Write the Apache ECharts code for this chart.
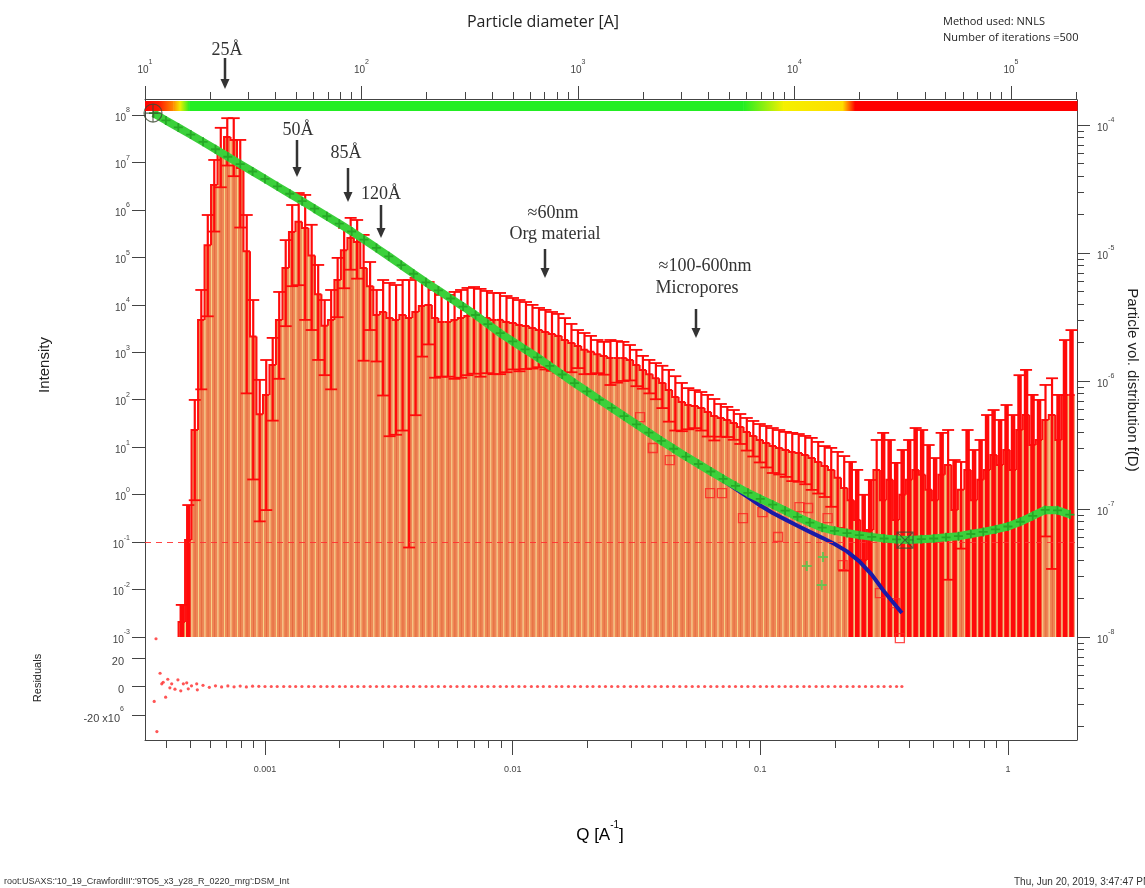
<!DOCTYPE html>
<html><head><meta charset="utf-8">
<script src="https://cdn.jsdelivr.net/npm/echarts@6/dist/echarts.min.js"></script>
<style>html,body{margin:0;padding:0;background:#fff;overflow:hidden;}#c{width:1145px;height:888px;}</style>
</head><body><div id="c"></div>
<script>
// ---------------- data ----------------
// Size distribution (top axis: diameter [Å], right axis: f(D))
const binDiameters = [14.79,15.85,16.98,18.20,19.50,20.89,22.39,23.99,25.70,27.54,29.51,31.62,33.88,36.31,38.90,41.69,44.67,47.86,51.29,54.95,58.88,63.10,67.61,72.44,77.62,83.18,89.13,95.50,102.3,109.6,117.5,125.9,134.9,144.5,154.9,166.0,177.8,190.5,204.2,218.8,234.4,251.2,269.2,288.4,309.0,331.1,354.8,380.2,407.4,436.5,467.7,501.2,537.0,575.4,616.6,660.7,707.9,758.6,812.8,871.0,933.3,1000,1072,1148,1230,1318,1413,1514,1622,1738,1862,1995,2138,2291,2455,2630,2818,3020,3236,3467,3715,3981,4266,4571,4898,5248,5623,6026,6457,6918,7413,7943,8511,9120,9772,10470,11220,12020,12880,13800,14790,15850,16980,18200,19500,20890,22390,23990,25700,27540,29510,31620,33880,36310,38900,41690,44670,47860,51290,54950,58880,63100,67610,72440,77620,83180,89130,95500,102300,109600,117500,125900,134900,144500,154900,166000,177800,190500];
const distValues = [1.31e-8,5.73e-8,4.14e-7,3.00e-6,1.15e-5,3.40e-5,6.38e-5,8.06e-5,7.64e-5,4.61e-5,1.03e-5,2.23e-6,5.5e-7,7.78e-7,1.33e-6,3.00e-6,7.64e-6,1.46e-5,1.75e-5,1.57e-5,9.55e-6,4.76e-6,2.70e-6,3.00e-6,6.15e-6,1.05e-5,1.31e-5,1.22e-5,7.64e-6,5.5e-6,3.28e-6,3.46e-6,3.10e-6,3.00e-6,3.28e-6,3.10e-6,3.46e-6,3.85e-6,3.93e-6,3.10e-6,2.89e-6,2.89e-6,3.00e-6,3.10e-6,3.22e-6,3.28e-6,3.16e-6,3.10e-6,3.00e-6,3.00e-6,2.89e-6,2.84e-6,2.74e-6,2.69e-6,2.59e-6,2.50e-6,2.41e-6,2.33e-6,2.25e-6,2.09e-6,1.98e-6,1.88e-6,1.75e-6,1.69e-6,1.62e-6,1.57e-6,1.51e-6,1.51e-6,1.51e-6,1.46e-6,1.33e-6,1.22e-6,1.13e-6,1.05e-6,9.64e-7,8.51e-7,7.50e-7,6.85e-7,6.49e-7,6.38e-7,6.15e-7,5.73e-7,5.33e-7,5.14e-7,4.96e-7,4.70e-7,4.37e-7,4.00e-7,3.72e-7,3.46e-7,3.28e-7,3.10e-7,3.00e-7,2.89e-7,2.79e-7,2.74e-7,2.64e-7,2.50e-7,2.33e-7,2.17e-7,2.02e-7,1.75e-7,1.46e-7,1.17e-7,8.20e-8,4.00e-8,6.85e-8,2.02e-7,1.17e-7,1.69e-7,8.20e-8,1.29e-7,1.69e-7,2.02e-7,1.85e-7,1.41e-7,1.17e-7,1.85e-7,2.21e-7,9.82e-8,1.41e-7,2.02e-7,1.17e-7,1.69e-7,2.02e-7,2.64e-7,2.21e-7,2.89e-7,2.02e-7,4.14e-7,5.42e-7,3.16e-7,3.46e-7,4.96e-7,5.42e-7,3.46e-7,7.78e-7,7.78e-7];
const distErrors = [4.7e-9,5.0e-8,2.97e-7,2.14e-6,8.3e-6,1.93e-5,3.12e-5,3.24e-5,3.66e-5,3.03e-5,9.5e-6,2.06e-6,4.7e-7,6.8e-7,8.4e-7,1.96e-6,4.96e-6,9.1e-6,1.19e-5,1.27e-5,7.05e-6,3.3e-6,1.59e-6,2.14e-6,3.0e-6,5.2e-6,5.7e-6,5.9e-6,6.2e-6,3.0e-6,1.86e-6,2.69e-6,2.73e-6,2.62e-6,2.87e-6,3.05e-6,2.92e-6,2.30e-6,2.0e-6,2.04e-6,1.81e-6,1.81e-6,1.96e-6,2.04e-6,2.11e-6,2.14e-6,2.08e-6,1.95e-6,1.87e-6,1.87e-6,1.72e-6,1.61e-6,1.55e-6,1.45e-6,1.34e-6,1.22e-6,1.18e-6,1.13e-6,1.09e-6,1.01e-6,8.1e-7,6.2e-7,6.2e-7,5.6e-7,4.7e-7,4.5e-7,5.8e-7,5.4e-7,5.1e-7,4.5e-7,4.2e-7,3.5e-7,3.3e-7,3.3e-7,3.5e-7,3.7e-7,3.4e-7,2.8e-7,2.3e-7,2.1e-7,2.05e-7,2.05e-7,1.9e-7,1.47e-7,1.31e-7,1.23e-7,1.15e-7,1.14e-7,1.15e-7,1.15e-7,1.17e-7,1.19e-7,1.14e-7,1.11e-7,1.14e-7,1.11e-7,1.08e-7,1.09e-7,1.01e-7,9.3e-8,9.8e-8,1.04e-7,1.13e-7,1.16e-7,1.20e-7,8.9e-8,1.0e-7,1.44e-7,2.76e-7,1.77e-7,1.47e-7,1.60e-7,1.77e-7,2.27e-7,2.29e-7,1.75e-7,1.33e-7,2.08e-7,1.93e-7,1.43e-7,9.2e-8,2.12e-7,1.72e-7,1.77e-7,3.40e-7,3.29e-7,2.75e-7,3.60e-7,3.40e-7,6.96e-7,6.78e-7,4.62e-7,3.65e-7,4.35e-7,5.08e-7,4.32e-7,1.31e-6,1.72e-6];
const distBase = 1e-8;

// Measured intensity (green), Q in 1/Å
const intensityQ = [3.548e-4,3.981e-4,4.467e-4,5.012e-4,5.623e-4,6.310e-4,7.079e-4,7.943e-4,8.913e-4,1.000e-3,1.122e-3,1.259e-3,1.413e-3,1.585e-3,1.778e-3,1.995e-3,2.239e-3,2.512e-3,2.818e-3,3.162e-3,3.548e-3,3.981e-3,4.467e-3,5.012e-3,5.623e-3,6.310e-3,7.079e-3,7.943e-3,8.913e-3,0.01,0.01122,0.01259,0.01413,0.01585,0.01778,0.01995,0.02239,0.02512,0.02818,0.03162,0.03548,0.03981,0.04467,0.05012,0.05623,0.06310,0.07079,0.07943,0.08913,0.1,0.1122,0.1259,0.1413,0.1585,0.1778,0.1995,0.2239,0.2512,0.2818,0.3162,0.3548,0.3981,0.4467,0.5012,0.5623,0.6310,0.7079,0.7943,0.8913,1.0,1.122,1.259,1.413,1.585,1.778];
const intensity = [1.09e8,7.69e7,5.46e7,3.86e7,2.72e7,1.90e7,1.32e7,9.23e6,6.44e6,4.50e6,3.14e6,2.19e6,1.53e6,1.06e6,7.36e5,5.12e5,3.51e5,2.36e5,1.58e5,1.05e5,6.87e4,4.52e4,2.98e4,2.01e4,1.36e4,9.20e3,6.10e3,3.92e3,2.52e3,1.70e3,1.15e3,783,515,340,224,150,100,67.1,45.1,30.3,20.3,13.6,9.27,6.35,4.42,3.07,2.15,1.53,1.09,0.811,0.615,0.460,0.340,0.258,0.201,0.173,0.155,0.140,0.129,0.119,0.114,0.111,0.115,0.119,0.126,0.133,0.148,0.164,0.185,0.213,0.268,0.356,0.476,0.467,0.380];
const outlierQ = [0.154,0.179,0.177];
const outlierI = [0.0313,0.0484,0.0124];

// Model intensity (blue)
const modelQ = [3.548e-4,3.981e-4,4.467e-4,5.012e-4,5.623e-4,6.310e-4,7.079e-4,7.943e-4,8.913e-4,1.000e-3,1.122e-3,1.259e-3,1.413e-3,1.585e-3,1.778e-3,1.995e-3,2.239e-3,2.512e-3,2.818e-3,3.162e-3,3.548e-3,3.981e-3,4.467e-3,5.012e-3,5.623e-3,6.310e-3,7.079e-3,7.943e-3,8.913e-3,0.01,0.01122,0.01259,0.01413,0.01585,0.01778,0.01995,0.02239,0.02512,0.02818,0.03162,0.03548,0.03981,0.04467,0.05012,0.05623,0.06310,0.07079,0.07943,0.08913,0.1,0.1122,0.1259,0.1413,0.1585,0.1778,0.1995,0.2239,0.2512,0.2818,0.3162,0.3548,0.373];
const modelI = [1.09e8,7.69e7,5.46e7,3.86e7,2.72e7,1.90e7,1.32e7,9.23e6,6.44e6,4.50e6,3.14e6,2.19e6,1.53e6,1.06e6,7.36e5,5.12e5,3.51e5,2.36e5,1.58e5,1.05e5,6.87e4,4.52e4,2.98e4,2.01e4,1.36e4,9.20e3,6.10e3,3.92e3,2.52e3,1.70e3,1.15e3,783,515,340,224,150,100,67.1,45.1,30.3,20.3,13.6,9.27,6.35,4.42,2.97,1.98,1.32,0.885,0.589,0.409,0.301,0.221,0.164,0.123,0.0910,0.0638,0.0393,0.0206,0.00908,0.00438,0.00320];

// Intensity minus background (red squares, visible part)
const subQ = [0.0327,0.0368,0.0431,0.0627,0.070,0.0851,0.102,0.118,0.144,0.156,0.187,0.215,0.304,0.349,0.366];
const subI = [43.2,9.6,5.36,1.08,1.08,0.321,0.430,0.128,0.548,0.523,0.321,0.0328,0.00843,0.00519,0.00095];
const backgroundLevel = 0.1;

// Residuals (x10^6)
const residQ = [3.57e-4,3.63e-4,3.66e-4,3.77e-4,3.83e-4,3.88e-4,3.97e-4,4.05e-4,4.13e-4,4.20e-4,4.33e-4,4.45e-4,4.57e-4,4.68e-4,4.83e-4,4.90e-4,5.05e-4,5.30e-4,5.33e-4,
5.62e-4,5.96e-4,6.31e-4,6.68e-4,7.08e-4,7.50e-4,7.94e-4,8.41e-4,8.91e-4,9.44e-4,
1.00e-3,1.06e-3,1.12e-3,1.19e-3,1.26e-3,1.33e-3,1.41e-3,1.50e-3,1.58e-3,1.68e-3,1.78e-3,1.88e-3,2.00e-3,2.11e-3,2.24e-3,2.37e-3,2.51e-3,2.66e-3,2.82e-3,2.99e-3,3.16e-3,3.35e-3,3.55e-3,3.76e-3,3.98e-3,4.22e-3,4.47e-3,4.73e-3,5.01e-3,5.31e-3,5.62e-3,5.96e-3,6.31e-3,6.68e-3,7.08e-3,7.50e-3,7.94e-3,8.41e-3,8.91e-3,9.44e-3,
0.0100,0.0106,0.0112,0.0119,0.0126,0.0133,0.0141,0.0150,0.0158,0.0168,0.0178,0.0188,0.0200,0.0211,0.0224,0.0237,0.0251,0.0266,0.0282,0.0299,0.0316,0.0335,0.0355,0.0376,0.0398,0.0422,0.0447,0.0473,0.0501,0.0531,0.0562,0.0596,0.0631,0.0668,0.0708,0.0750,0.0794,0.0841,0.0891,0.0944,
0.100,0.106,0.112,0.119,0.126,0.133,0.141,0.150,0.158,0.168,0.178,0.188,0.200,0.211,0.224,0.237,0.251,0.266,0.282,0.299,0.316,0.335,0.355,0.373];
const residuals = [-10.5,33.5,-31.6,9.3,1.9,3.0,-7.5,5.1,-0.9,1.9,-1.9,4.7,-3.0,1.9,2.6,-1.6,0.5,1.9,-2.3,
0.8,-0.6,0.5,-0.3,0.4,-0.2,0.3,-0.3,0.2,0.1,
0,0,0,0,0,0,0,0,0,0,0,0,0,0,0,0,0,0,0,0,0,0,0,0,0,0,0,0,0,0,0,0,0,0,0,0,0,0,0,0,
0,0,0,0,0,0,0,0,0,0,0,0,0,0,0,0,0,0,0,0,0,0,0,0,0,0,0,0,0,0,0,0,0,0,0,0,0,0,0,0,
0,0,0,0,0,0,0,0,0,0,0,0,0,0,0,0,0,0,0,0,0,0,0,0];

// Fit-range cursors
const cursorQ = [3.53e-4, 0.384];
const cursorI = [1.10e8, 0.110];

// Reliability colour strip along diameter
const reliabilityD = [10, 11.6, 13.5, 14.5, 16.0, 5800, 8900, 16700, 19000, 202000];
const reliabilityColor = ['#ff0000','#ff1a00','#ff8c00','#f0f000','#22ee22','#22ee22','#f5f000','#ffdd00','#ff0000','#ff0000'];

// Axis ranges and ticks
const Q_MIN = 3.277e-4, Q_MAX = 1.90;
const D_MIN = 10, D_MAX = 2.02e5;
const F_MIN = 1.567e-9, F_MAX = 1.567e-4;
const I_MIN = 1e-3, I_MAX = 1e8;
const qMajorTicks = [0.001, 0.01, 0.1, 1];
const qMinorTicks = [4e-4,5e-4,6e-4,7e-4,8e-4,9e-4,2e-3,3e-3,4e-3,5e-3,6e-3,7e-3,8e-3,9e-3,0.02,0.03,0.04,0.05,0.06,0.07,0.08,0.09,0.2,0.3,0.4,0.5,0.6,0.7,0.8,0.9];
const dMajorTicks = [10, 100, 1000, 10000, 100000];
const dMinorTicks = [20,30,40,50,60,70,80,90,200,300,400,500,600,700,800,900,2000,3000,4000,5000,6000,7000,8000,9000,20000,30000,40000,50000,60000,70000,80000,90000,200000];
const fMajorTicks = [1e-8, 1e-7, 1e-6, 1e-5, 1e-4];
const fMinorTicks = [2e-9,3e-9,4e-9,5e-9,6e-9,7e-9,8e-9,9e-9,2e-8,3e-8,4e-8,5e-8,6e-8,7e-8,8e-8,9e-8,2e-7,3e-7,4e-7,5e-7,6e-7,7e-7,8e-7,9e-7,2e-6,3e-6,4e-6,5e-6,6e-6,7e-6,8e-6,9e-6,2e-5,3e-5,4e-5,5e-5,6e-5,7e-5,8e-5,9e-5];
const iMajorTicks = [1e-3,1e-2,1e-1,1,10,100,1e3,1e4,1e5,1e6,1e7,1e8];

// ---------------- chart ----------------
const chart = echarts.init(document.getElementById('c'), null, {width:1145, height:888});
const AX = '#444';
const LBL = {color:'#444', fontFamily:'Liberation Sans, Arial, sans-serif'};
const supRich = {
  b:{fontSize:10, color:'#444', fontFamily:'Liberation Sans', lineHeight:16, verticalAlign:'bottom'},
  s:{fontSize:7, color:'#444', fontFamily:'Liberation Sans', lineHeight:16, verticalAlign:'top'}
};
const pow10Label = v => '{b|10}{s|' + Math.round(Math.log10(v)) + '}';

// bin edges (geometric midpoints)
const n = binDiameters.length;
const binLo = binDiameters.map((d,i)=> i===0 ? d/Math.sqrt(binDiameters[1]/d) : Math.sqrt(binDiameters[i-1]*d));
const binHi = binDiameters.map((d,i)=> i===n-1 ? d*Math.sqrt(d/binDiameters[n-2]) : Math.sqrt(binDiameters[i+1]*d));

function logAxisCommon(extra){ return Object.assign({type:'log', logBase:10, splitLine:{show:false}}, extra); }

const plusSym = 'path://M4,0 L6,0 L6,4 L10,4 L10,6 L6,6 L6,10 L4,10 L4,6 L0,6 L0,4 L4,4 Z';
const cursorCircle = 'path://M0,10 A10,10 0 1,1 20,10 A10,10 0 1,1 0,10 Z M10,0 L10,20 M0,10 L20,10';
const cursorSquare = 'path://M0,0 L20,0 L20,20 L0,20 Z M0,0 L20,20 M20,0 L0,20';

function arrow(x, y1, y2){
  return [
    {type:'line', z:100, shape:{x1:x, y1:y1, x2:x, y2:y2-8}, style:{stroke:'#333', lineWidth:2.5}},
    {type:'polygon', z:100, shape:{points:[[x-4.5,y2-10],[x+4.5,y2-10],[x,y2]]}, style:{fill:'#333'}}
  ];
}
const serif = 'Liberation Serif, Times New Roman, serif';
function ann(text, x, y){ return {type:'text', z:100, x:x, y:y, style:{text:text, font:'18px '+serif, fill:'#333', textAlign:'center', textVerticalAlign:'middle'}}; }

const ERR = '#ff0a0a';
const option = {
  animation:false,
  backgroundColor:'#fff',
  grid:[
    {left:145, right:68, top:100, height:640},
    {left:145, right:68, top:115, height:522},
    {left:145, right:68, top:658, height:57}
  ],
  xAxis:[
    logAxisCommon({gridIndex:0, position:'bottom', min:Q_MIN, max:Q_MAX,
      axisLine:{lineStyle:{color:AX}}, axisTick:{inside:false, length:15, customValues:qMajorTicks, lineStyle:{color:AX}},
      axisLabel:Object.assign({customValues:qMajorTicks, formatter:v=>String(v), fontSize:9, margin:25}, LBL)}),
    logAxisCommon({gridIndex:0, position:'top', min:D_MIN, max:D_MAX, offset:1,
      axisLine:{lineStyle:{color:AX}}, axisTick:{inside:false, length:13, customValues:dMajorTicks, lineStyle:{color:AX}},
      axisLabel:{customValues:dMajorTicks, formatter:pow10Label, rich:supRich, margin:24}}),
    logAxisCommon({gridIndex:0, position:'bottom', min:Q_MIN, max:Q_MAX,
      axisLine:{show:false}, axisTick:{inside:false, length:8, customValues:qMinorTicks, lineStyle:{color:AX}}, axisLabel:{show:false}}),
    logAxisCommon({gridIndex:0, position:'top', min:D_MIN, max:D_MAX, offset:1,
      axisLine:{show:false}, axisTick:{inside:false, length:7, customValues:dMinorTicks, lineStyle:{color:AX}}, axisLabel:{show:false}}),
    logAxisCommon({gridIndex:1, min:Q_MIN, max:Q_MAX, show:false}),
    logAxisCommon({gridIndex:2, min:Q_MIN, max:Q_MAX, show:false})
  ],
  yAxis:[
    logAxisCommon({gridIndex:0, position:'right', min:F_MIN, max:F_MAX,
      axisLine:{show:true, lineStyle:{color:AX}}, axisTick:{show:true, inside:false, length:13, customValues:fMajorTicks, lineStyle:{color:AX}},
      axisLabel:{customValues:fMajorTicks, formatter:pow10Label, rich:supRich, margin:20}}),
    logAxisCommon({gridIndex:0, position:'right', min:F_MIN, max:F_MAX,
      axisLine:{show:false}, axisTick:{show:true, inside:false, length:7, customValues:fMinorTicks, lineStyle:{color:AX}}, axisLabel:{show:false}}),
    {type:'value', gridIndex:0, position:'left', min:0, max:1, axisLine:{show:true, lineStyle:{color:AX}}, axisTick:{show:false}, axisLabel:{show:false}, splitLine:{show:false}},
    logAxisCommon({gridIndex:1, position:'left', min:I_MIN, max:I_MAX,
      axisLine:{show:false}, axisTick:{show:true, inside:false, length:13, customValues:iMajorTicks, lineStyle:{color:AX}},
      axisLabel:{customValues:iMajorTicks, formatter:pow10Label, rich:supRich, margin:15}}),
    {type:'value', gridIndex:2, position:'left', min:-20, max:20, interval:20,
      axisLine:{show:false}, axisTick:{show:true, inside:false, length:13, lineStyle:{color:AX}}, splitLine:{show:false},
      axisLabel:{formatter:v=> v===-20 ? '{r|-20 x10}{s|6}' : '{r|'+v+'}', margin:21,
        rich:{r:{fontSize:11, color:'#444', fontFamily:'Liberation Sans', lineHeight:18, verticalAlign:'bottom'}, s:{fontSize:7, color:'#444', fontFamily:'Liberation Sans', lineHeight:18, verticalAlign:'top'}}}}
  ],
  series:[
    {type:'custom', name:'reliability', xAxisIndex:1, yAxisIndex:0, z:6, silent:true,
      data: reliabilityD.slice(0,-1).map(d=>[d, 1e-6]),
      renderItem:(params, api)=>{
        const i = params.dataIndex;
        const x0 = api.coord([reliabilityD[i], 1e-6])[0];
        const x1 = api.coord([reliabilityD[i+1], 1e-6])[0];
        const top = params.coordSys.y;
        return {type:'rect', shape:{x:x0, y:top+1, width:x1-x0+0.5, height:10},
          style:{fill:new echarts.graphic.LinearGradient(0,0,1,0,[{offset:0,color:reliabilityColor[i]},{offset:1,color:reliabilityColor[i+1]}])}};
      }},
    // histogram bars with hatch-like light edge and red step outline
    {type:'custom', name:'f(D) bars', xAxisIndex:1, yAxisIndex:0, z:1, silent:true,
      data: binDiameters.map((d,i)=>[d, distValues[i]]),
      renderItem:(params, api)=>{
        const i = params.dataIndex;
        const p0 = api.coord([binLo[i], distBase]);
        const p1 = api.coord([binHi[i], api.value(1)]);
        const prevY = i>0 ? api.coord([binLo[i], distValues[i-1]])[1] : p0[1];
        const w = p1[0]-p0[0];
        return {type:'group', children:[
          {type:'rect', shape:{x:p0[0], y:p1[1], width:w, height:p0[1]-p1[1]}, style:{fill:'#ee8756'}},
          {type:'line', shape:{x1:p0[0]+0.5, y1:p1[1], x2:p0[0]+0.5, y2:p0[1]}, style:{stroke:'#f7d58a', lineWidth:1}},
          {type:'line', shape:{x1:p0[0]+w*0.55, y1:p1[1], x2:p0[0]+w*0.55, y2:p0[1]}, style:{stroke:'rgba(220,70,40,0.45)', lineWidth:1}},
          {type:'polyline', shape:{points:[[p0[0], prevY],[p0[0], p1[1]],[p1[0], p1[1]]]}, style:{stroke:'#ff1010', lineWidth:2, fill:null}}
        ]};
      }},
    {type:'custom', name:'f(D) errors', xAxisIndex:1, yAxisIndex:0, z:2, silent:true,
      data: binDiameters.map((d,i)=>[d, distValues[i], distErrors[i]]),
      renderItem:(params, api)=>{
        const d = api.value(0), v = api.value(1), e = api.value(2);
        const lowV = v - e;
        const toAxis = lowV <= distBase;
        const top = api.coord([d, v+e]);
        const bot = api.coord([d, Math.max(lowV, distBase)]);
        const ch = [
          {type:'line', shape:{x1:top[0], y1:top[1], x2:bot[0], y2:bot[1]}, style:{stroke:ERR, lineWidth: toAxis ? 4.5 : 2.2}},
          {type:'line', shape:{x1:top[0]-6, y1:top[1], x2:top[0]+6, y2:top[1]}, style:{stroke:ERR, lineWidth:1.8}}
        ];
        if (!toAxis) ch.push({type:'line', shape:{x1:bot[0]-6, y1:bot[1], x2:bot[0]+6, y2:bot[1]}, style:{stroke:ERR, lineWidth:1.8}});
        return {type:'group', children:ch};
      }},
    {type:'scatter', name:'I - background', xAxisIndex:4, yAxisIndex:3, z:3, clip:false, silent:true,
      data: subQ.map((q,i)=>[q, subI[i]]), symbol:'rect', symbolSize:9,
      itemStyle:{color:'rgba(0,0,0,0)', borderColor:'#ff2020', borderWidth:1.3}},
    {type:'line', name:'model', xAxisIndex:4, yAxisIndex:3, z:4, clip:false, silent:true,
      data: modelQ.map((q,i)=>[q, modelI[i]]), showSymbol:false, symbol:'none',
      lineStyle:{color:'#1a1aa8', width:4}},
    {type:'line', name:'Intensity', xAxisIndex:4, yAxisIndex:3, z:5, clip:false, silent:true,
      data: intensityQ.map((q,i)=>[q, intensity[i]]),
      symbol:plusSym, symbolSize:9, showSymbol:true, itemStyle:{color:'#26a826'},
      lineStyle:{color:'#3bd03b', width:8},
      markLine:{silent:true, symbol:['none','none'], label:{show:false}, data:[{yAxis:backgroundLevel}],
        lineStyle:{color:'#ff3030', type:[6,5], width:1, opacity:0.9}}},
    {type:'scatter', name:'outliers', xAxisIndex:4, yAxisIndex:3, z:5, silent:true,
      data: outlierQ.map((q,i)=>[q, outlierI[i]]), symbol:plusSym, symbolSize:10, itemStyle:{color:'#4ccc4c'}},
    {type:'scatter', name:'cursors', xAxisIndex:4, yAxisIndex:3, z:7, clip:false, silent:true,
      data:[{value:[cursorQ[0], cursorI[0]], symbol:cursorCircle, symbolSize:18},
            {value:[cursorQ[1], cursorI[1]], symbol:cursorSquare, symbolSize:16}],
      itemStyle:{color:'rgba(0,0,0,0)', borderColor:'#3d4a33', borderWidth:1.2}},
    {type:'scatter', name:'residuals', xAxisIndex:5, yAxisIndex:4, z:5, clip:false, silent:true,
      data: residQ.map((q,i)=>[q, residuals[i]]), symbol:'circle', symbolSize:3.2,
      itemStyle:{color:'#ff2a2a'}}
  ],
  graphic:[
    {type:'text', z:100, x:543, y:22, style:{text:'Particle diameter [A]', font:'16px Open Sans, sans-serif', fill:'#222', textAlign:'center', textVerticalAlign:'middle'}},
    {type:'text', z:100, x:943, y:22, style:{text:'Method used: NNLS', font:'11px Open Sans, sans-serif', fill:'#222', textAlign:'left', textVerticalAlign:'middle'}},
    {type:'text', z:100, x:943, y:38, style:{text:'Number of iterations =500', font:'11px Open Sans, sans-serif', fill:'#222', textAlign:'left', textVerticalAlign:'middle'}},
    {type:'text', z:100, x:45, y:365, rotation:Math.PI/2, style:{text:'Intensity', font:'15px Liberation Sans, sans-serif', fill:'#222', textAlign:'center', textVerticalAlign:'middle'}},
    {type:'text', z:100, x:38, y:678, rotation:Math.PI/2, style:{text:'Residuals', font:'11px Liberation Sans, sans-serif', fill:'#222', textAlign:'center', textVerticalAlign:'middle'}},
    {type:'text', z:100, x:1132, y:380, rotation:-Math.PI/2, style:{text:'Particle vol. distribution f(D)', font:'15px Liberation Sans, sans-serif', fill:'#222', textAlign:'center', textVerticalAlign:'middle'}},
    {type:'text', z:100, x:600, y:832, style:{text:'{a|Q [A}{s|-1}{a|]}', textAlign:'center', textVerticalAlign:'middle',
      rich:{a:{fontSize:17, fontFamily:'Liberation Sans', color:'#222', lineHeight:24, verticalAlign:'bottom'}, s:{fontSize:10, fontFamily:'Liberation Sans', color:'#222', lineHeight:24, verticalAlign:'top'}}}},
    {type:'text', z:100, x:4, y:882, style:{text:"root:USAXS:'10_19_CrawfordIII':'9TO5_x3_y28_R_0220_mrg':DSM_Int", font:'9px Liberation Sans, sans-serif', fill:'#333', textAlign:'left', textVerticalAlign:'middle'}},
    {type:'text', z:100, x:1014, y:882, style:{text:'Thu, Jun 20, 2019, 3:47:47 PM', font:'10px Liberation Sans, sans-serif', fill:'#333', textAlign:'left', textVerticalAlign:'middle'}},
    ann('25Å', 227, 50), ...arrow(225, 58, 89),
    ann('50Å', 298, 130), ...arrow(297, 140, 177),
    ann('85Å', 346, 153), ...arrow(348, 168, 202),
    ann('120Å', 381, 194), ...arrow(381, 205, 238),
    ann('≈60nm', 553, 213), ann('Org material', 555, 234), ...arrow(545, 249, 278),
    ann('≈100-600nm', 705, 266), ann('Micropores', 697, 288), ...arrow(696, 309, 338)
  ]
};
chart.setOption(option);
</script></body></html>
